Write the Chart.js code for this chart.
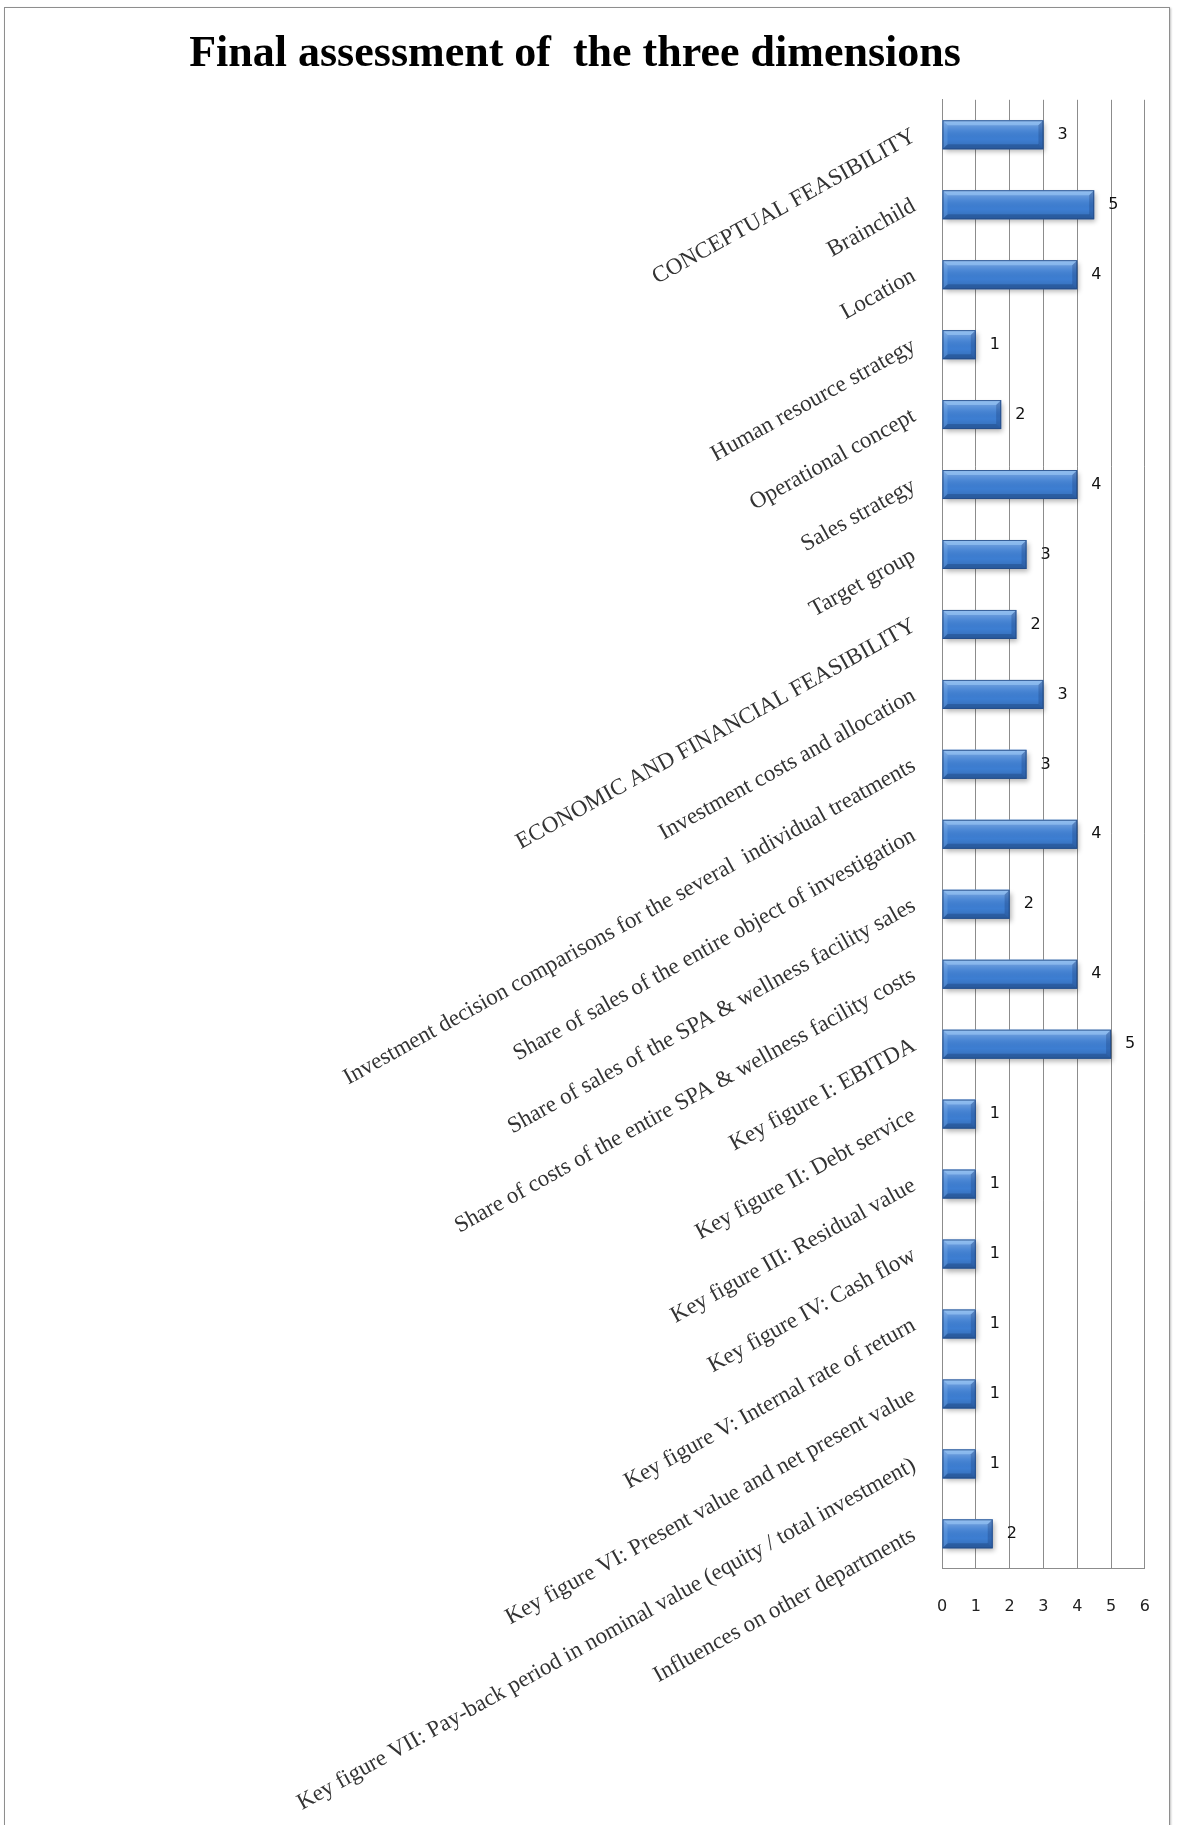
<!DOCTYPE html>
<html>
<head>
<meta charset="utf-8">
<title>Final assessment of the three dimensions</title>
<script src="https://cdn.jsdelivr.net/npm/chart.js@4.4.1/dist/chart.umd.min.js"></script>
<style>
  html, body { margin: 0; padding: 0; background: #fff; }
  #wrap { position: relative; width: 1178px; height: 1825px; overflow: hidden; }
  #frame {
    position: absolute; left: 4px; top: 7px; width: 1164px; height: 1840px;
    border: 1px solid #8e8e8e; box-shadow: 1px 1px 2px rgba(0,0,0,0.25);
  }
  canvas { position: absolute; left: 0; top: 0; }
</style>
</head>
<body>
<div id="wrap">
  <div id="frame"></div>
  <canvas id="chart" width="1178" height="1825"></canvas>
</div>
<script>
// Categories, top to bottom
const categories = [
  'CONCEPTUAL FEASIBILITY',
  'Brainchild',
  'Location',
  'Human resource strategy',
  'Operational concept',
  'Sales strategy',
  'Target group',
  'ECONOMIC AND FINANCIAL FEASIBILITY',
  'Investment costs and allocation',
  'Investment decision comparisons for the several  individual treatments',
  'Share of sales of the entire object of investigation',
  'Share of sales of the SPA & wellness facility sales',
  'Share of costs of the entire SPA & wellness facility costs',
  'Key figure I: EBITDA',
  'Key figure II: Debt service',
  'Key figure III: Residual value',
  'Key figure IV: Cash flow',
  'Key figure V: Internal rate of return',
  'Key figure VI: Present value and net present value',
  'Key figure VII: Pay-back period in nominal value (equity / total investment)',
  'Influences on other departments'
];

// Bar lengths
const scores = [3, 4.5, 4, 1, 1.75, 4, 2.5, 2.2, 3, 2.5, 4, 2, 4, 5, 1, 1, 1, 1, 1, 1, 1.5];

// Numbers printed next to the bars
const scoreLabels = ['3', '5', '4', '1', '2', '4', '3', '2', '3', '3', '4', '2', '4', '5', '1', '1', '1', '1', '1', '1', '2'];

// X axis ticks
const xTicks = [0, 1, 2, 3, 4, 5, 6];

const gridGray = '#8c8c8c';

// Drop shadow under the bars
const barShadow = {
  id: 'barShadow',
  beforeDatasetsDraw(chart) {
    const ctx = chart.ctx;
    ctx.save();
    ctx.shadowColor = 'rgba(0, 0, 0, 0.3)';
    ctx.shadowBlur = 5;
    ctx.shadowOffsetX = 2;
    ctx.shadowOffsetY = 3;
  },
  afterDatasetsDraw(chart) {
    chart.ctx.restore();
  }
};

// Bevel look + value labels
const barBevel = {
  id: 'barBevel',
  afterDatasetsDraw(chart) {
    const ctx = chart.ctx;
    const meta = chart.getDatasetMeta(0);
    meta.data.forEach((bar, i) => {
      const p = bar.getProps(['x', 'y', 'base', 'height'], true);
      const left = Math.min(p.base, p.x);
      const right = Math.max(p.base, p.x);
      const top = p.y - p.height / 2;
      const bottom = p.y + p.height / 2;
      const b = 5;

      ctx.save();
      // face shading
      const g = ctx.createLinearGradient(0, top, 0, bottom);
      g.addColorStop(0, 'rgba(255,255,255,0.35)');
      g.addColorStop(0.35, 'rgba(255,255,255,0.08)');
      g.addColorStop(0.65, 'rgba(0,0,0,0)');
      g.addColorStop(1, 'rgba(0,0,0,0.15)');
      ctx.fillStyle = g;
      ctx.fillRect(left, top, right - left, bottom - top);

      const poly = (pts, color) => {
        ctx.beginPath();
        ctx.moveTo(pts[0][0], pts[0][1]);
        for (let k = 1; k < pts.length; k++) ctx.lineTo(pts[k][0], pts[k][1]);
        ctx.closePath();
        ctx.fillStyle = color;
        ctx.fill();
      };
      poly([[left, top], [right, top], [right - b, top + b], [left + b, top + b]], 'rgba(160,205,250,0.55)');
      poly([[left, bottom], [right, bottom], [right - b, bottom - b], [left + b, bottom - b]], 'rgba(20,55,110,0.35)');
      poly([[right, top], [right, bottom], [right - b, bottom - b], [right - b, top + b]], 'rgba(20,55,110,0.28)');
      poly([[left, top], [left, bottom], [left + b, bottom - b], [left + b, top + b]], 'rgba(130,180,235,0.3)');

      ctx.strokeStyle = 'rgba(35,75,135,0.85)';
      ctx.lineWidth = 1;
      ctx.strokeRect(left + 0.5, top + 0.5, right - left - 1, bottom - top - 1);

      // value label
      ctx.fillStyle = '#111';
      ctx.font = '16px "DejaVu Sans", sans-serif';
      ctx.textAlign = 'left';
      ctx.textBaseline = 'middle';
      ctx.fillText(scoreLabels[i], right + 14, p.y);
      ctx.restore();
    });
  }
};

new Chart(document.getElementById('chart'), {
  type: 'bar',
  data: {
    labels: categories,
    datasets: [{
      data: scores,
      backgroundColor: '#3d7ed2',
      borderWidth: 0,
      barPercentage: 0.415,
      categoryPercentage: 1
    }]
  },
  options: {
    indexAxis: 'y',
    responsive: false,
    animation: false,
    layout: {
      padding: { left: 0, right: 28, top: 0, bottom: 181 }
    },
    plugins: {
      legend: { display: false },
      tooltip: { enabled: false },
      title: {
        display: true,
        text: 'Final assessment of  the three dimensions',
        color: '#000',
        font: { family: '"Liberation Serif", serif', size: 44, weight: 'bold' },
        padding: { top: 28, bottom: 19 }
      }
    },
    scales: {
      x: {
        min: 0,
        max: 6,
        afterBuildTicks: (scale) => {
          scale.ticks = xTicks.map(v => ({ value: v }));
        },
        grid: { color: gridGray, lineWidth: 1, drawTicks: false },
        border: { display: true, color: gridGray, width: 1 },
        ticks: {
          padding: 28,
          color: '#222',
          font: { family: '"DejaVu Sans", sans-serif', size: 16 }
        }
      },
      y: {
        grid: { display: false, drawTicks: false },
        border: { display: true, color: gridGray, width: 1 },
        afterFit: (scale) => { scale.width = 942; },
        ticks: {
          autoSkip: false,
          minRotation: 29,
          maxRotation: 29,
          padding: 28,
          color: '#333',
          font: { family: '"Liberation Serif", serif', size: 23 }
        }
      }
    }
  },
  plugins: [barShadow, barBevel]
});
</script>
</body>
</html>
